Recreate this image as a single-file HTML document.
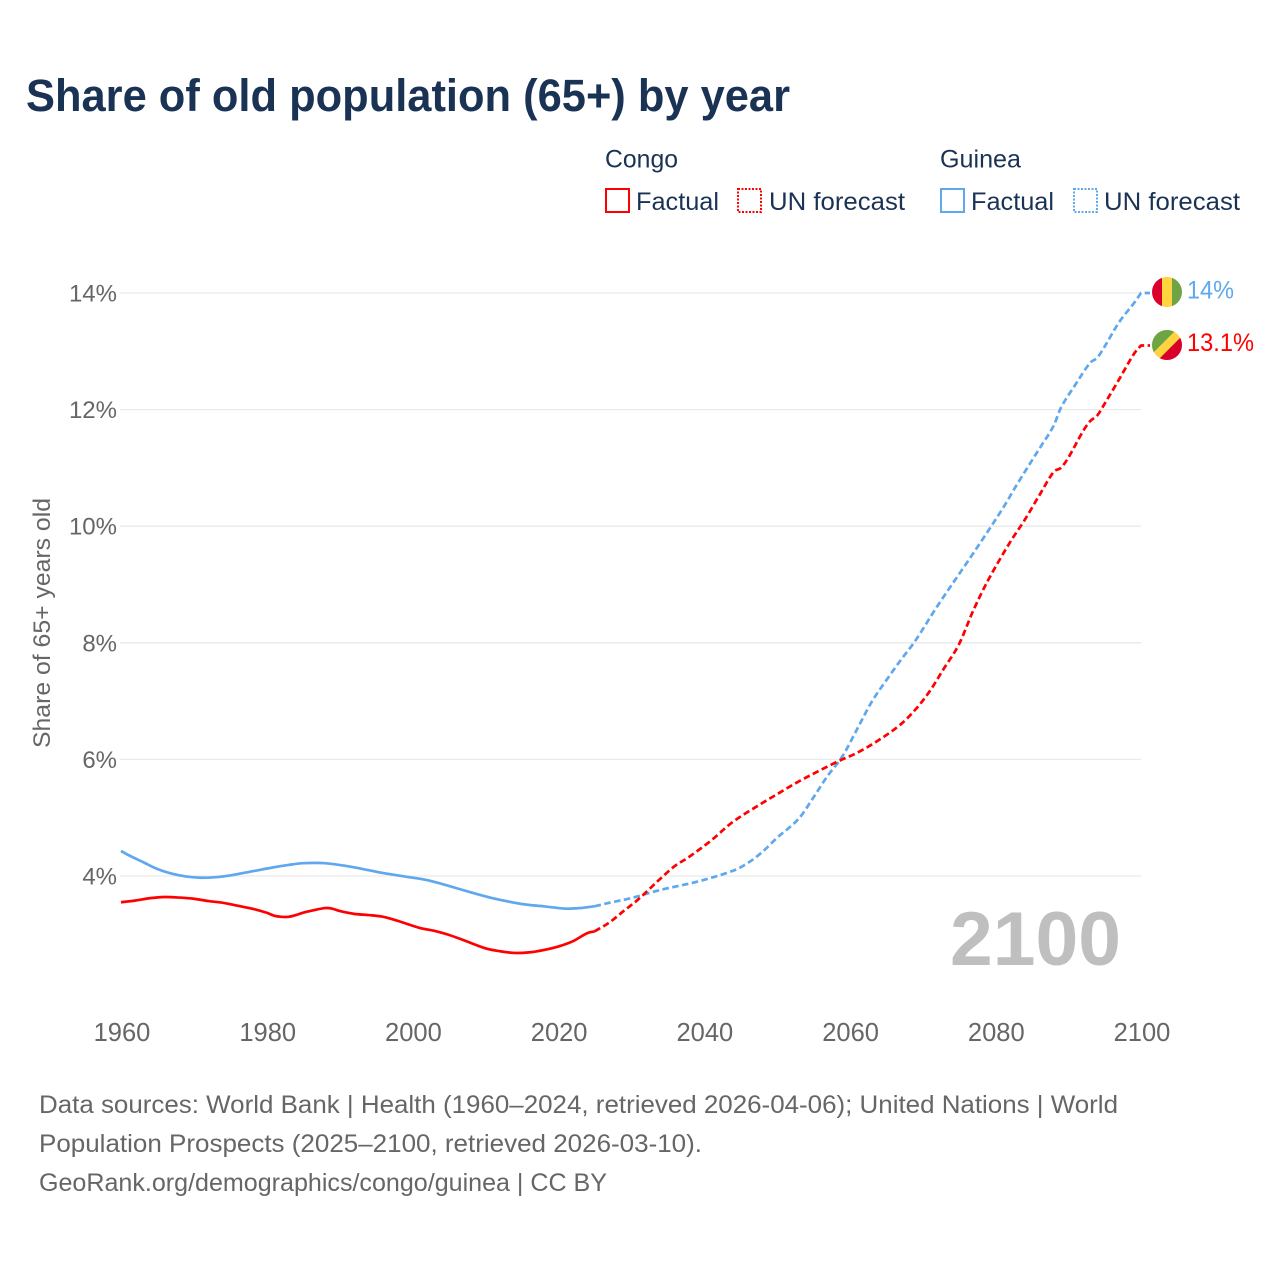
<!DOCTYPE html>
<html lang="en">
<head>
<meta charset="utf-8">
<title>Share of old population (65+) by year</title>
<style>
html,body{margin:0;padding:0;background:#fff;}
svg{display:block;font-family:"Liberation Sans",sans-serif;}
.leg{font-size:25px;fill:#1a3355;}
.foot{font-size:25px;fill:#666;}
</style>
</head>
<body>
<svg id="chart" width="1280" height="1280" viewBox="0 0 1280 1280" xmlns="http://www.w3.org/2000/svg">
  <defs>
    <clipPath id="clip-guinea"><circle cx="1167" cy="292" r="15"/></clipPath>
    <clipPath id="clip-congo"><circle cx="1167" cy="345" r="15"/></clipPath>
  </defs>
  <rect width="1280" height="1280" fill="#fff"/>
  <text x="26" y="111" font-size="45" font-weight="bold" fill="#1a3355" textLength="764" lengthAdjust="spacingAndGlyphs">Share of old population (65+) by year</text>

  <g>
    <text class="leg" x="605" y="167.5" textLength="73" lengthAdjust="spacingAndGlyphs">Congo</text>
    <rect x="606" y="189" width="23" height="23" fill="none" stroke="#ff0000" stroke-width="2"/>
    <text class="leg" x="636" y="210" textLength="83" lengthAdjust="spacingAndGlyphs">Factual</text>
    <rect x="738" y="189" width="23" height="23" fill="none" stroke="#ff0000" stroke-width="2" stroke-dasharray="2 1.5"/>
    <text class="leg" x="769" y="210" textLength="136" lengthAdjust="spacingAndGlyphs">UN forecast</text>
    <text class="leg" x="940" y="167.5" textLength="81" lengthAdjust="spacingAndGlyphs">Guinea</text>
    <rect x="941" y="189" width="23" height="23" fill="none" stroke="#5fa8ee" stroke-width="2"/>
    <text class="leg" x="971" y="210" textLength="83" lengthAdjust="spacingAndGlyphs">Factual</text>
    <rect x="1074" y="189" width="23" height="23" fill="none" stroke="#5fa8ee" stroke-width="2" stroke-dasharray="2 1.5"/>
    <text class="leg" x="1104" y="210" textLength="136" lengthAdjust="spacingAndGlyphs">UN forecast</text>
  </g>

  <text transform="translate(50,623) rotate(-90)" text-anchor="middle" font-size="24" fill="#666" textLength="250" lengthAdjust="spacingAndGlyphs">Share of 65+ years old</text>

  <g id="grid"></g>
  <g id="yticks"></g>
  <g id="xticks"></g>

  <text x="1121" y="965" text-anchor="end" font-size="76" font-weight="bold" fill="#bfbfbf" textLength="171" lengthAdjust="spacingAndGlyphs">2100</text>

  <g id="lines"></g>

  <g clip-path="url(#clip-guinea)">
    <rect x="1152" y="277" width="10" height="30" fill="#d9002b"/>
    <rect x="1162" y="277" width="10" height="30" fill="#ffd53f"/>
    <rect x="1172" y="277" width="10" height="30" fill="#6da544"/>
  </g>
  <g clip-path="url(#clip-congo)">
    <rect x="1152" y="330" width="30" height="30" fill="#ffd53f"/>
    <polygon points="1152,330 1176,330 1152,354" fill="#6da544"/>
    <polygon points="1182,336 1182,360 1158,360" fill="#d9002b"/>
  </g>
  <text id="label-guinea" x="1187" y="298.5" font-size="25" fill="#5fa8ee" textLength="47" lengthAdjust="spacingAndGlyphs">14%</text>
  <text id="label-congo" x="1187" y="351" font-size="25" fill="#ff0000" textLength="67" lengthAdjust="spacingAndGlyphs">13.1%</text>

  <g>
    <text class="foot" x="39" y="1113" textLength="1079" lengthAdjust="spacingAndGlyphs">Data sources: World Bank | Health (1960–2024, retrieved 2026-04-06); United Nations | World</text>
    <text class="foot" x="39" y="1152" textLength="663" lengthAdjust="spacingAndGlyphs">Population Prospects (2025–2100, retrieved 2026-03-10).</text>
    <text class="foot" x="39" y="1191" textLength="568" lengthAdjust="spacingAndGlyphs">GeoRank.org/demographics/congo/guinea | CC BY</text>
  </g>
</svg>
<script>
const yTicks = [4, 6, 8, 10, 12, 14];
const xTicks = [1960, 1980, 2000, 2020, 2040, 2060, 2080, 2100];

const congoFactualYears = [1960,1962,1964,1966,1968,1970,1972,1974,1976,1978,1980,1981,1982,1983,1984,1985,1986,1988,1989,1990,1992,1994,1996,1998,2001,2003,2005,2007,2010,2012,2014,2016,2018,2020,2022,2024,2025];
const congoFactualValues = [3.55,3.58,3.62,3.64,3.63,3.61,3.57,3.54,3.49,3.44,3.37,3.32,3.30,3.30,3.33,3.37,3.40,3.45,3.44,3.40,3.35,3.33,3.30,3.23,3.11,3.06,2.99,2.90,2.76,2.71,2.68,2.69,2.73,2.79,2.88,3.02,3.05];
const congoForecastYears = [2025,2027,2029,2031,2034,2036,2038,2041,2044,2048,2050,2053,2057,2059,2061,2064,2067,2069,2071,2073,2075,2077,2079,2082,2084,2086,2088,2089,2090,2092,2093,2094,2095,2097,2099,2100];
const congoForecastValues = [3.05,3.20,3.40,3.60,3.95,4.17,4.33,4.61,4.93,5.25,5.40,5.62,5.88,6.00,6.11,6.33,6.60,6.85,7.17,7.57,7.97,8.56,9.07,9.72,10.10,10.52,10.93,11.00,11.17,11.62,11.80,11.90,12.10,12.52,12.95,13.10];

const guineaFactualYears = [1960,1961,1963,1965,1967,1969,1971,1973,1975,1978,1981,1983,1985,1988,1991,1994,1996,1999,2002,2005,2008,2011,2015,2018,2021,2023,2025];
const guineaFactualValues = [4.43,4.36,4.24,4.12,4.04,3.99,3.97,3.98,4.01,4.08,4.15,4.19,4.22,4.22,4.17,4.10,4.05,3.99,3.93,3.83,3.72,3.62,3.52,3.48,3.44,3.45,3.48];
const guineaForecastYears = [2025,2027,2030,2034,2039,2044,2046,2048,2050,2053,2055,2057,2059,2061,2063,2065,2067,2069,2072,2077,2081,2083,2086,2088,2089,2091,2093,2094,2095,2097,2099,2100];
const guineaForecastValues = [3.48,3.54,3.62,3.76,3.90,4.09,4.22,4.41,4.65,4.98,5.34,5.72,6.05,6.51,6.98,7.35,7.70,8.03,8.62,9.54,10.30,10.72,11.32,11.72,12.03,12.43,12.80,12.89,13.08,13.50,13.82,14.00];

const seriesColors = { congo: '#ff0000', guinea: '#5fa8ee' };

const NS = 'http://www.w3.org/2000/svg';
const xScale = function (year) { return 121 + (year - 1960) * (1141 - 121) / 140; };
const yScale = function (pct) { return 876 - (pct - 4) * (876 - 293) / 10; };

const gridGroup = document.getElementById('grid');
const yTickGroup = document.getElementById('yticks');
const xTickGroup = document.getElementById('xticks');
const lineGroup = document.getElementById('lines');

yTicks.forEach(function (t) {
  const line = document.createElementNS(NS, 'line');
  
  
  line.setAttribute('x1', 120);
  line.setAttribute('x2', 1141);
  line.setAttribute('y1', yScale(t));
  line.setAttribute('y2', yScale(t));
  line.setAttribute('stroke', '#eaeaea');
  line.setAttribute('stroke-width', '1.3');
  gridGroup.appendChild(line);

  const label = document.createElementNS(NS, 'text');
  
  
  label.setAttribute('x', 117);
  label.setAttribute('y', yScale(t) + 8.5);
  label.setAttribute('text-anchor', 'end');
  label.setAttribute('font-size', '24');
  label.setAttribute('fill', '#666666');
  label.textContent = t + '%';
  yTickGroup.appendChild(label);
});

xTicks.forEach(function (t) {
  const label = document.createElementNS(NS, 'text');
  
  
  label.setAttribute('x', xScale(t) + 1);
  label.setAttribute('y', 1041);
  label.setAttribute('text-anchor', 'middle');
  label.setAttribute('font-size', '25.5');
  label.setAttribute('fill', '#666666');
  label.textContent = t;
  xTickGroup.appendChild(label);
});

function drawSeries(years, values, color, dashed, name, connectorX) {
  const px = years.map(xScale);
  const py = values.map(yScale);
  const n = px.length;
  const slope = function (i) {
    const a = Math.max(0, i - 1);
    const b = Math.min(n - 1, i + 1);
    return (py[b] - py[a]) / (px[b] - px[a]);
  };
  let d = 'M' + px[0].toFixed(2) + ' ' + py[0].toFixed(2);
  for (let i = 0; i < n - 1; i++) {
    const h = (px[i + 1] - px[i]) / 3;
    d += 'C' + (px[i] + h).toFixed(2) + ' ' + (py[i] + slope(i) * h).toFixed(2) +
      ' ' + (px[i + 1] - h).toFixed(2) + ' ' + (py[i + 1] - slope(i + 1) * h).toFixed(2) +
      ' ' + px[i + 1].toFixed(2) + ' ' + py[i + 1].toFixed(2);
  }
  if (connectorX) {
    d += 'L' + connectorX + ' ' + py[n - 1].toFixed(2);
  }
  const path = document.createElementNS(NS, 'path');
  
  
  path.setAttribute('d', d);
  path.setAttribute('fill', 'none');
  path.setAttribute('stroke', color);
  path.setAttribute('stroke-width', '2.7');
  path.setAttribute('stroke-linejoin', 'round');
  if (dashed) {
    path.setAttribute('stroke-dasharray', '6.5 3.5');
  }
  lineGroup.appendChild(path);
}

drawSeries(guineaFactualYears, guineaFactualValues, seriesColors.guinea, false, 'guinea-factual-line');
drawSeries(congoFactualYears, congoFactualValues, seriesColors.congo, false, 'congo-factual-line');
drawSeries(guineaForecastYears, guineaForecastValues, seriesColors.guinea, true, 'guinea-forecast-line', 1150);
drawSeries(congoForecastYears, congoForecastValues, seriesColors.congo, true, 'congo-forecast-line', 1150);
</script>
</body>
</html>
